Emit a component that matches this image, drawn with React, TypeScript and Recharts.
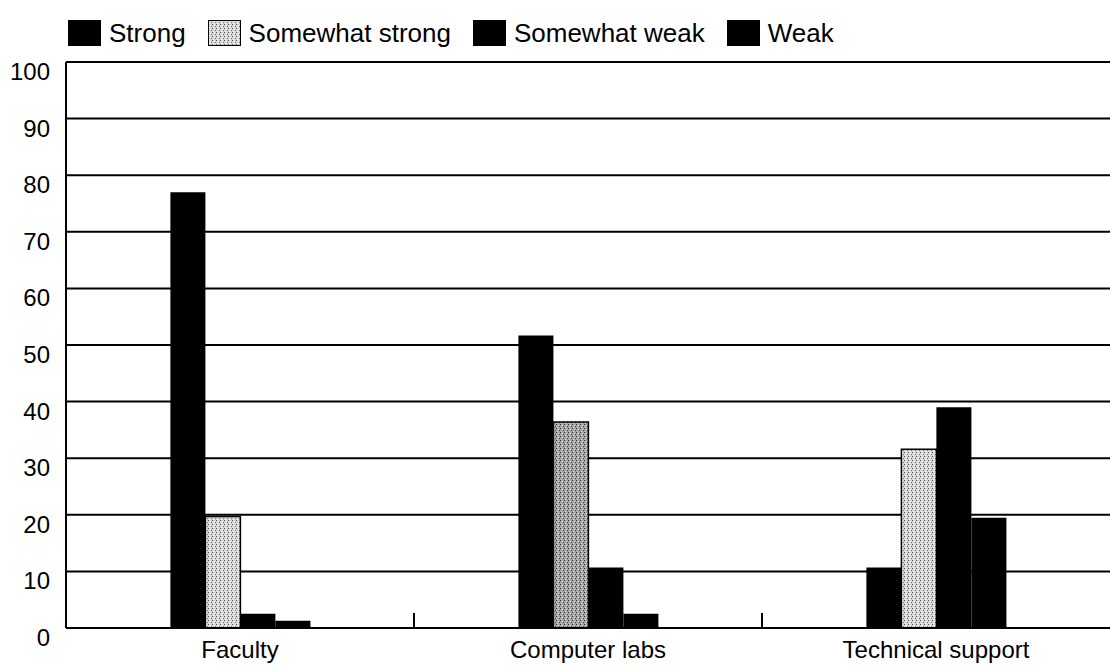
import { BarChart, Bar, Cell, XAxis, YAxis, CartesianGrid, Legend } from 'recharts'

const CATEGORIES = ['Faculty', 'Computer labs', 'Technical support']
const STRONG = [77, 51.7, 10.7]
const SOMEWHAT_STRONG = [19.7, 36.4, 31.6]
const SOMEWHAT_WEAK = [2.5, 10.7, 39]
const WEAK = [1.3, 2.5, 19.5]
const Y_TICKS = [0, 10, 20, 30, 40, 50, 60, 70, 80, 90, 100]

const FONT = '"Liberation Sans", Arial, Helvetica, sans-serif'

const data = CATEGORIES.map((name, i) => ({
  name,
  strong: STRONG[i],
  somewhatStrong: SOMEWHAT_STRONG[i],
  somewhatWeak: SOMEWHAT_WEAK[i],
  weak: WEAK[i],
}))

const LEGEND_ITEMS = [
  { label: 'Strong', fill: '#000' },
  { label: 'Somewhat strong', fill: 'url(#speckleLight)' },
  { label: 'Somewhat weak', fill: '#000' },
  { label: 'Weak', fill: '#000' },
]

// ── Legend / ticks ───────────────────────────────────────────────────────────

function LegendContent() {
  return (
    <div style={{ height: 42, display: 'flex', alignItems: 'flex-start', paddingLeft: 68, paddingTop: 2, fontFamily: FONT, fontSize: 26, color: '#000' }}>
      {LEGEND_ITEMS.map((it) => (
        <div key={it.label} style={{ display: 'flex', alignItems: 'center', marginRight: 22 }}>
          <svg width={33} height={26} style={{ marginRight: 8 }}>
            <rect x={0.5} y={0.5} width={32} height={25} fill={it.fill} stroke="#000" strokeWidth={1} />
          </svg>
          <span style={{ lineHeight: '26px' }}>{it.label}</span>
        </div>
      ))}
    </div>
  )
}

function CategoryTick({ x, y, payload, index }: any) {
  const half = payload?.offset ?? 175
  return (
    <g>
      {index > 0 && (
        <line x1={x - half} x2={x - half} y1={y} y2={y - 15} stroke="#000" strokeWidth={2} />
      )}
      <text x={x} y={y + 30} textAnchor="middle" fontFamily={FONT} fontSize={24} fill="#000">
        {payload.value}
      </text>
    </g>
  )
}

function ValueTick({ x, y, payload }: any) {
  return (
    <text x={x} y={y + 18} textAnchor="end" fontFamily={FONT} fontSize={24} fill="#000">
      {payload.value}
    </text>
  )
}

export default function App() {
  return (
    <div style={{ position: 'absolute', left: 0, top: 0, width: 1110, height: 671, background: '#fff' }}>
      <BarChart
        width={1110}
        height={671}
        data={data}
        margin={{ top: 18, right: 0, bottom: 0, left: 0 }}
        barCategoryGap="30%"
        barGap={0}
      >
        <defs>
          <pattern id="speckleLight" width="4" height="4" patternUnits="userSpaceOnUse">
            <rect width="4" height="4" fill="#d6d6d6" />
            <rect x="0" y="0" width="1" height="1" fill="#555" />
            <rect x="2" y="1" width="1" height="1" fill="#fff" />
            <rect x="3" y="2" width="1" height="1" fill="#777" />
            <rect x="1" y="3" width="1" height="1" fill="#fff" />
          </pattern>
          <pattern id="speckleDark" width="4" height="4" patternUnits="userSpaceOnUse">
            <rect width="4" height="4" fill="#a4a4a4" />
            <rect x="0" y="0" width="1" height="1" fill="#333" />
            <rect x="2" y="1" width="1" height="1" fill="#e0e0e0" />
            <rect x="3" y="2" width="1" height="1" fill="#444" />
            <rect x="1" y="3" width="1" height="1" fill="#d0d0d0" />
          </pattern>
        </defs>
        <Legend verticalAlign="top" align="left" content={<LegendContent />} />
        <CartesianGrid vertical={false} stroke="#000" strokeWidth={2} />
        <XAxis
          dataKey="name"
          height={43}
          axisLine={{ stroke: '#000', strokeWidth: 2 }}
          tickLine={false}
          tickSize={0}
          tickMargin={0}
          tick={<CategoryTick />}
          interval={0}
        />
        <YAxis
          width={66}
          domain={[0, 100]}
          ticks={Y_TICKS}
          axisLine={{ stroke: '#000', strokeWidth: 2 }}
          tickLine={false}
          tickSize={0}
          tickMargin={16}
          tick={<ValueTick />}
        />
        <Bar dataKey="strong" fill="#000" isAnimationActive={false} />
        <Bar dataKey="somewhatStrong" stroke="#000" strokeWidth={1.5} isAnimationActive={false}>
          {data.map((d, i) => (
            <Cell key={d.name} fill={i === 1 ? 'url(#speckleDark)' : 'url(#speckleLight)'} />
          ))}
        </Bar>
        <Bar dataKey="somewhatWeak" fill="#000" isAnimationActive={false} />
        <Bar dataKey="weak" fill="#000" isAnimationActive={false} />
      </BarChart>
    </div>
  )
}
